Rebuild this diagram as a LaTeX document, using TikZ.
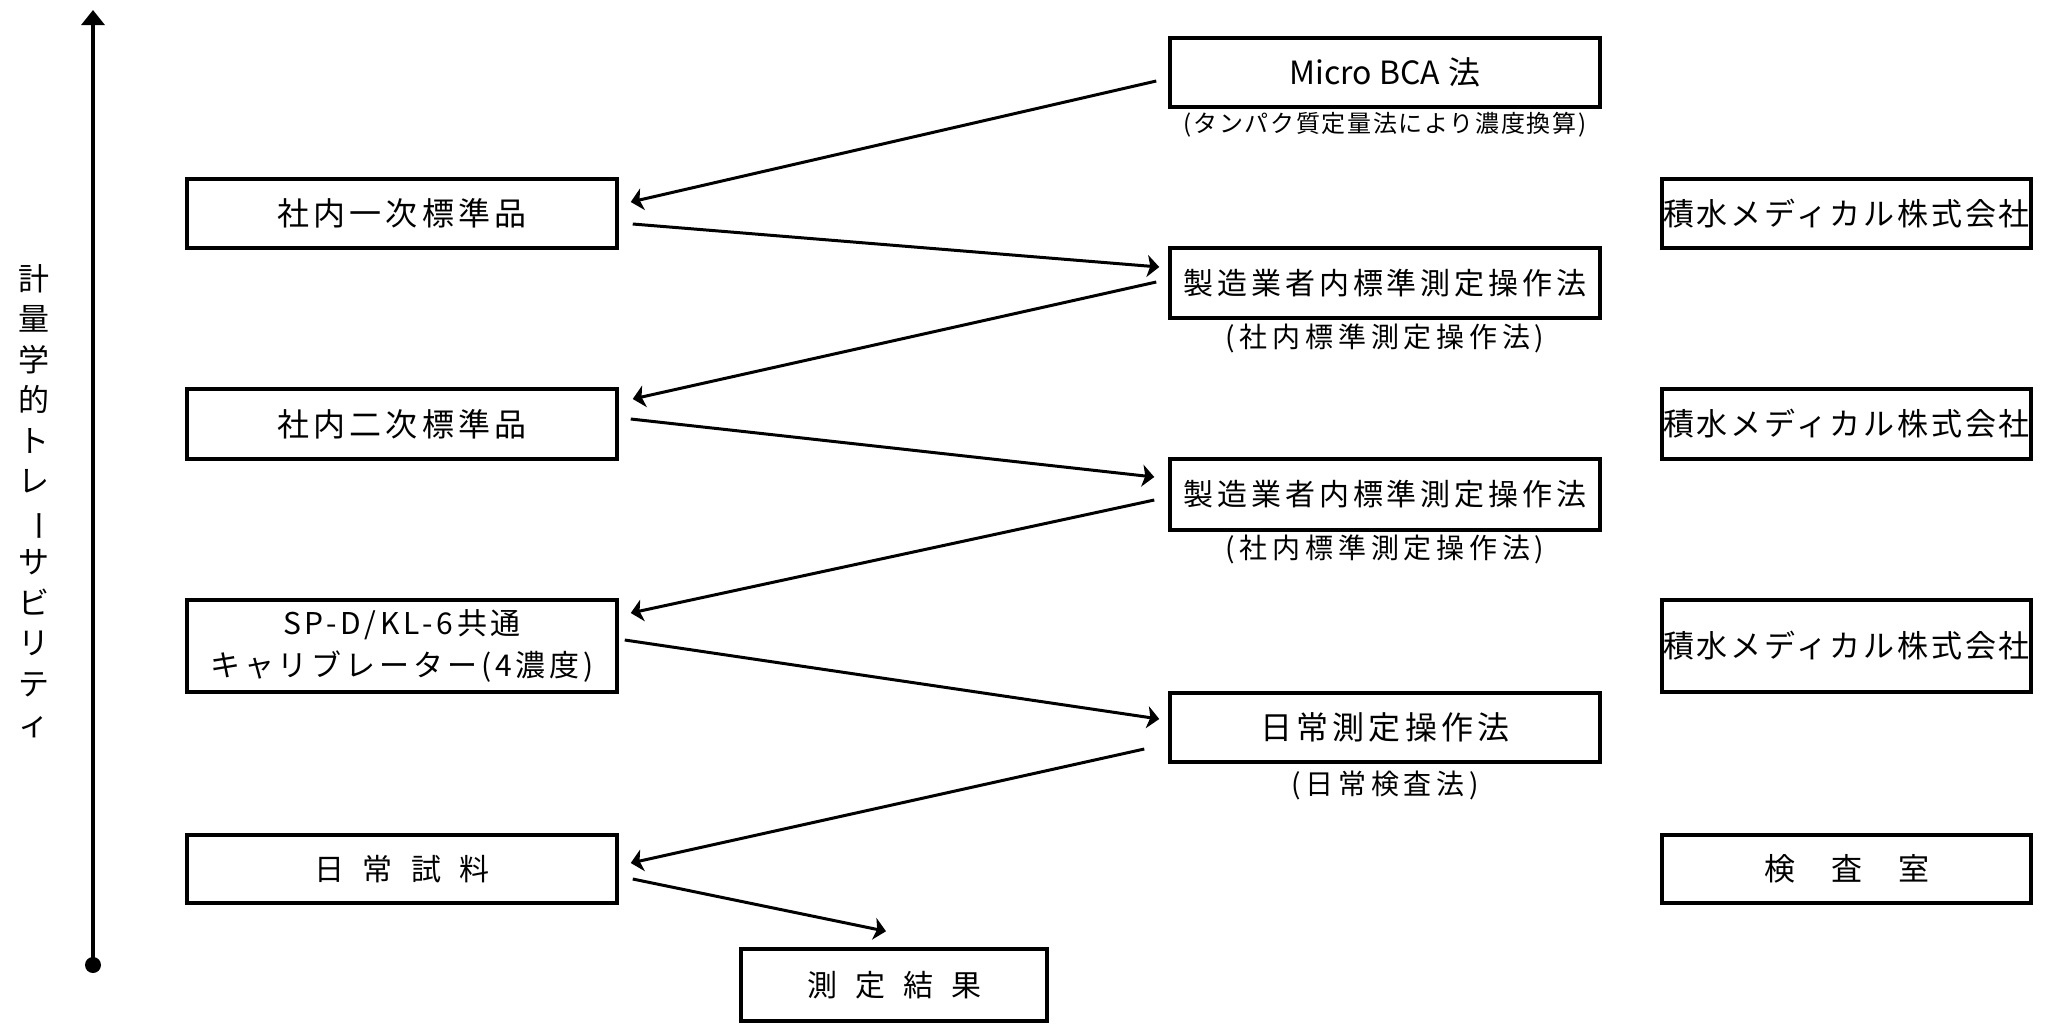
\documentclass[tikz,border=0pt]{standalone}
\usepackage{fontspec}
\usetikzlibrary{arrows.meta,calc}
\newfontfamily\jp{Noto Sans CJK JP}
\newfontfamily\jpls[LetterSpace=13]{Noto Sans CJK JP}
\newfontfamily\jpr[LetterSpace=9]{Noto Sans CJK JP}
\newfontfamily\jpsub[LetterSpace=17]{Noto Sans CJK JP}
\newfontfamily\jpsubb[LetterSpace=7]{Noto Sans CJK JP}
\begin{document}
\begin{tikzpicture}[x=1pt,y=-1pt,
  box/.style={draw,line width=3.5pt,minimum width=430pt,inner sep=0pt,align=center,
    font=\jpls\fontsize{30}{36}\selectfont},
  rbox/.style={box,minimum width=369pt,text width=369pt,font=\jpr\fontsize{31}{36}\selectfont},
  big/.style={font=\jpls\fontsize{32}{36}\selectfont},
  sub/.style={inner sep=0pt,font=\jpsub\fontsize{28}{32}\selectfont},
  subb/.style={inner sep=0pt,font=\jpsubb\fontsize{24}{30}\selectfont},
  arr/.style={line width=3pt,-{Stealth[length=12pt,width=22pt,inset=3pt]}},
  axis/.style={line width=3.3pt,-{Triangle[length=15pt,width=23pt]}}
]
\useasboundingbox (0,0) rectangle (2045,1026);
\fill[white] (0,0) rectangle (2045,1026);

% axis
\node[circle,fill=black,inner sep=0pt,minimum size=16pt] (dot) at (93,965) {};
\coordinate (axtop) at (93,10);
\draw[axis] (dot.center) -- (axtop);
\node[align=center,inner sep=0pt,font=\jp\fontsize{31}{40.5}\selectfont] (vlab) at (34,501)
  {計\\量\\学\\的\\ト\\レ\\\rotatebox[origin=c]{-90}{ー}\\サ\\ビ\\リ\\テ\\ィ};

% middle column
\node[box,minimum height=69pt,font=\jp\fontsize{32}{36}\selectfont] (micro) at (1385,72.5) {Micro BCA\hspace{8pt}法};
\node[subb] (micros) at (1385,125) {(タンパク質定量法により濃度換算)};
\node[box,minimum height=70pt] (m1) at (1385,283) {製造業者内標準測定操作法};
\node[sub] (m1s) at (1385,338) {(社内標準測定操作法)};
\node[box,minimum height=71pt] (m2) at (1385,494.5) {製造業者内標準測定操作法};
\node[sub] (m2s) at (1385,549) {(社内標準測定操作法)};
\node[box,big,minimum height=69pt] (m3) at (1385,727.5) {日常測定操作法};
\node[sub] (m3s) at (1385,785) {(日常検査法)};

% left column
\node[box,big,minimum height=69pt] (s1) at (402,213.5) {社内一次標準品};
\node[box,big,minimum height=70pt] (s2) at (402,424) {社内二次標準品};
\node[box,minimum height=92pt,font=\jpls\fontsize{30}{42}\selectfont] (s3) at (402,646) {SP-D/KL-6共通\\キャリブレーター(4濃度)};
\node[box,minimum height=68pt,font=\jp\fontsize{30}{36}\selectfont] (s4) at (402,869) {日\hspace{18.5pt}常\hspace{18.5pt}試\hspace{18.5pt}料};
\node[box,minimum width=306pt,minimum height=72pt,font=\jp\fontsize{30}{36}\selectfont] (res) at (894,985) {測\hspace{18pt}定\hspace{18pt}結\hspace{18pt}果};

% right column
\node[rbox,minimum height=69pt] (r1) at (1846.5,213.5) {積水メディカル株式会社};
\node[rbox,minimum height=70pt] (r2) at (1846.5,424) {積水メディカル株式会社};
\node[rbox,minimum height=92pt] (r3) at (1846.5,646) {積水メディカル株式会社};
\node[rbox,minimum height=68pt,font=\jp\fontsize{31}{36}\selectfont] (r4) at (1846.5,869) {検\hspace{36pt}査\hspace{36pt}室};

% connectors
\draw[arr] ([shift={(-12,8.5)}]micro.west) -- ([shift={(12,-11.5)}]s1.east);
\draw[arr] ([shift={(14,10.5)}]s1.east) -- ([shift={(-9,-16)}]m1.west);
\draw[arr] ([shift={(-12,-1)}]m1.west) -- ([shift={(14,-25)}]s2.east);
\draw[arr] ([shift={(12,-5)}]s2.east) -- ([shift={(-14,-17.5)}]m2.west);
\draw[arr] ([shift={(-14,5.5)}]m2.west) -- ([shift={(12,-33)}]s3.east);
\draw[arr] ([shift={(6,-6)}]s3.east) -- ([shift={(-9,-8.5)}]m3.west);
\draw[arr] ([shift={(-24,21.5)}]m3.west) -- ([shift={(12,-6)}]s4.east);
\draw[arr] ([shift={(14,10)}]s4.east) -- ([shift={(-8,-16)}]res.north);
\end{tikzpicture}
\end{document}
